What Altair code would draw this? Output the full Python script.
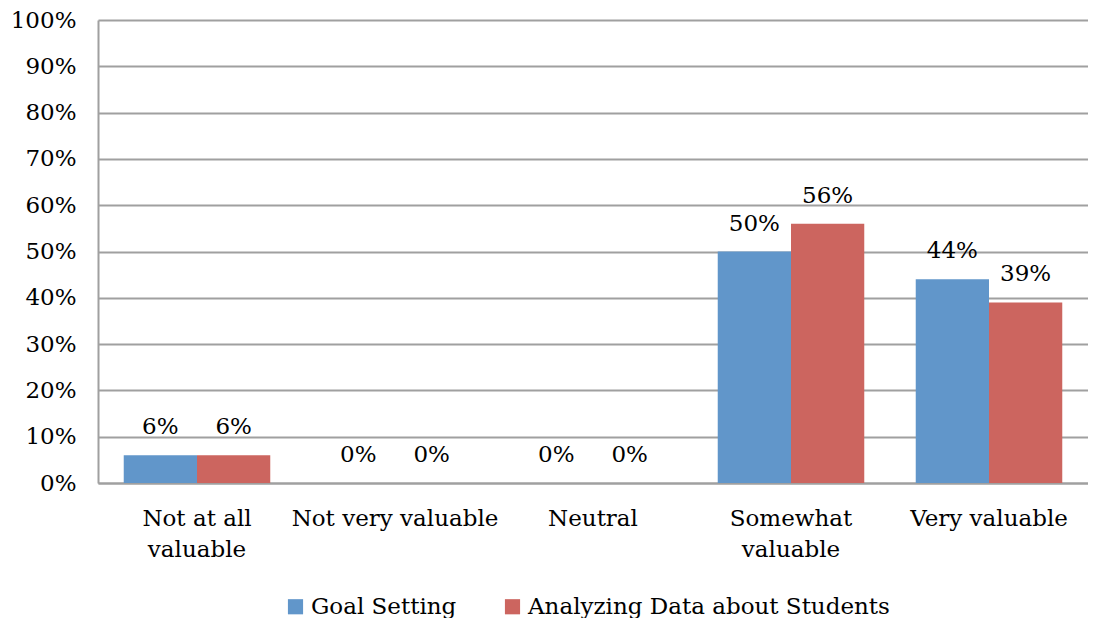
import altair as alt
import pandas as pd

categories = ["Not at all valuable", "Not very valuable", "Neutral", "Somewhat valuable", "Very valuable"]
label_lines = [["Not at all", "valuable"], ["Not very valuable"], ["Neutral"], ["Somewhat", "valuable"], ["Very valuable"]]
series = ["Goal Setting", "Analyzing Data about Students"]
goal_setting = [0.06, 0.00, 0.00, 0.50, 0.44]
analyzing = [0.06, 0.00, 0.00, 0.56, 0.39]
colors = ["#6196CA", "#CC655F"]

rows = []
for i, c in enumerate(categories):
    rows.append({"category": c, "series": series[0], "value": goal_setting[i]})
    rows.append({"category": c, "series": series[1], "value": analyzing[i]})
df = pd.DataFrame(rows)

FONT = "DejaVu Serif"
FS = 23

label_expr = " : ".join(
    f"datum.label == '{c}' ? {lines!r}" for c, lines in zip(categories, label_lines)
) + " : datum.label"

x = alt.X("category:N", sort=categories, title=None,
          scale=alt.Scale(paddingInner=0.26, paddingOuter=0.13),
          axis=alt.Axis(labelAngle=0, labelExpr=label_expr, ticks=False,
                        labelPadding=24, labelFont=FONT, labelFontSize=FS,
                        labelColor="#000000", domainColor="#A0A0A0", domainWidth=2,
                        labelLineHeight=31, labelBaseline="top", labelLimit=400))
xo = alt.XOffset("series:N", sort=series)

bars = alt.Chart(df).mark_bar().encode(
    x=x,
    xOffset=xo,
    y=alt.Y("value:Q", title=None,
            scale=alt.Scale(domain=[0, 1]),
            axis=alt.Axis(format=".0%", values=[i / 10 for i in range(11)],
                          ticks=False, labelPadding=22, labelFont=FONT,
                          labelFontSize=FS, labelColor="#000000",
                          gridColor="#A0A0A0", gridWidth=2,
                          domainColor="#A0A0A0", domainWidth=2)),
    color=alt.Color("series:N", sort=series,
                    scale=alt.Scale(domain=series, range=colors),
                    legend=alt.Legend(title=None, orient="none", direction="horizontal",
                                      legendX=186, legendY=575,
                                      symbolType="square", symbolSize=230,
                                      symbolStrokeWidth=0,
                                      labelFont=FONT, labelFontSize=FS,
                                      labelColor="#000000", columnPadding=44,
                                      labelOffset=4, labelLimit=500)),
)

text = alt.Chart(df).mark_text(baseline="bottom", dy=-16, font=FONT,
                               fontSize=FS, color="#000000").encode(
    x=alt.X("category:N", sort=categories),
    xOffset=xo,
    y="value:Q",
    text=alt.Text("value:Q", format=".0%"),
)

chart = alt.layer(bars, text).properties(
    width=990, height=463,
    autosize=alt.AutoSizeParams(type="none"),
    padding={"left": 90, "top": 12, "right": 0, "bottom": 135},
).configure_view(stroke=None).configure_axis(labelFont=FONT)

chart.save("out.html", embed_options={"renderer": "svg", "actions": False})
